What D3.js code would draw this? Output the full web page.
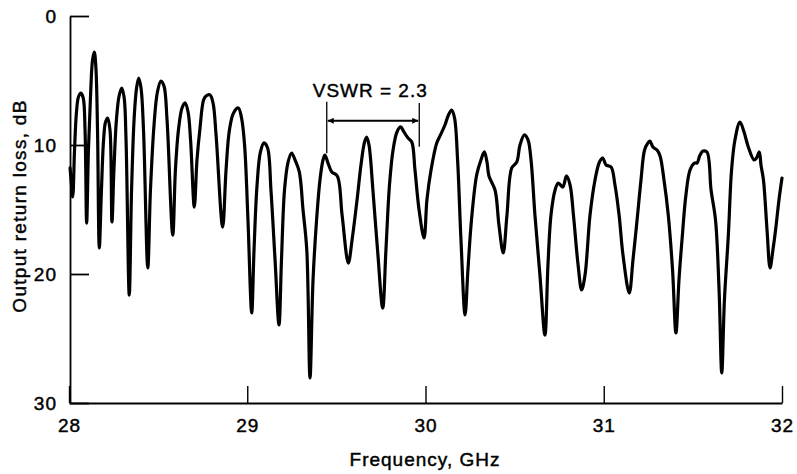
<!DOCTYPE html>
<html>
<head>
<meta charset="utf-8">
<script src="https://cdn.jsdelivr.net/npm/d3@7/dist/d3.min.js"></script>
<style>
  html, body { margin: 0; padding: 0; background: #fff; }
  svg { display: block; }
  text { font-family: "Liberation Sans", Arial, Helvetica, sans-serif; fill: #000; stroke: #000; stroke-width: 0.45px; }
</style>
</head>
<body>
<svg id="chart" width="797" height="474"></svg>
<script>
// Swept output return loss of the amplifier, 28–32 GHz
const freqGHz = [
  28.006, 28.014, 28.021, 28.031, 28.042, 28.053, 28.067, 28.080, 28.090, 28.099,
  28.109, 28.121, 28.132, 28.142, 28.151, 28.160, 28.170, 28.182, 28.194, 28.205,
  28.217, 28.230, 28.241, 28.252, 28.266, 28.281, 28.296, 28.309, 28.320, 28.338,
  28.351, 28.365, 28.379, 28.391, 28.404, 28.418, 28.442, 28.457, 28.477, 28.496,
  28.516, 28.533, 28.550, 28.582, 28.597, 28.614, 28.634, 28.651, 28.668, 28.682,
  28.703, 28.718, 28.735, 28.755, 28.769, 28.791, 28.808, 28.825, 28.862, 28.881,
  28.900, 28.923, 28.950, 28.968, 28.985, 29.004, 29.025, 29.038, 29.055, 29.074,
  29.094, 29.114, 29.133, 29.156, 29.178, 29.192, 29.209, 29.229, 29.249, 29.268,
  29.292, 29.313, 29.334, 29.352, 29.369, 29.389, 29.408, 29.425, 29.436, 29.453,
  29.474, 29.505, 29.532, 29.567, 29.588, 29.616, 29.638, 29.658, 29.670, 29.683,
  29.705, 29.731, 29.760, 29.778, 29.798, 29.818, 29.840, 29.861, 29.879, 29.902,
  29.923, 29.941, 29.964, 29.992, 30.008, 30.031, 30.063, 30.084, 30.109, 30.129,
  30.147, 30.163, 30.180, 30.199, 30.222, 30.238, 30.258, 30.287, 30.311, 30.330,
  30.345, 30.356, 30.390, 30.412, 30.436, 30.457, 30.484, 30.512, 30.530, 30.555,
  30.575, 30.592, 30.614, 30.642, 30.670, 30.687, 30.704, 30.727, 30.745, 30.770,
  30.791, 30.811, 30.830, 30.856, 30.876, 30.895, 30.923, 30.951, 30.976, 30.994,
  31.013, 31.041, 31.063, 31.086, 31.108, 31.143, 31.164, 31.187, 31.209, 31.229,
  31.248, 31.259, 31.276, 31.299, 31.316, 31.338, 31.362, 31.386, 31.405, 31.422,
  31.439, 31.461, 31.484, 31.509, 31.523, 31.540, 31.557, 31.579, 31.602, 31.627,
  31.647, 31.662, 31.677, 31.699, 31.717, 31.736, 31.764, 31.787, 31.811, 31.843,
  31.857, 31.873, 31.882, 31.896, 31.916, 31.933, 31.949, 31.964, 31.983, 32.000
];
const returnLossDb = [
  11.78, 13.10, 14.03, 10.39, 7.44, 6.28, 5.97, 6.36, 8.84, 16.05,
  10.39, 6.12, 3.41, 2.79, 4.03, 8.84, 17.98, 13.49, 9.61, 8.22,
  7.91, 8.84, 15.97, 11.94, 8.06, 6.20, 5.58, 6.28, 9.61, 21.63,
  13.49, 8.06, 5.58, 4.81, 5.58, 8.84, 19.53, 13.49, 8.45, 5.89,
  5.04, 5.43, 8.06, 16.98, 11.94, 8.84, 7.13, 6.74, 7.44, 9.61,
  14.81, 11.16, 8.68, 6.51, 6.20, 6.12, 6.74, 9.22, 16.36, 11.94,
  8.84, 7.52, 7.13, 7.91, 10.00, 15.81, 23.02, 18.14, 13.10, 10.54,
  9.84, 10.23, 13.49, 18.91, 23.95, 18.91, 13.49, 11.32, 10.62, 11.16,
  12.09, 15.04, 18.14, 28.06, 20.47, 15.81, 12.71, 11.16, 10.78, 11.40,
  12.09, 12.40, 15.43, 19.15, 17.36, 14.26, 11.55, 9.77, 9.38, 10.00,
  13.49, 18.14, 22.64, 18.14, 13.10, 10.39, 8.99, 8.60, 8.99, 9.46,
  9.77, 11.94, 15.04, 17.21, 14.26, 11.94, 9.84, 9.22, 8.45, 7.67,
  7.29, 7.91, 11.16, 17.36, 23.18, 19.69, 15.81, 12.33, 11.16, 10.54,
  11.32, 12.40, 13.49, 16.20, 18.37, 15.43, 11.78, 11.32, 10.00, 9.22,
  9.61, 11.16, 15.43, 20.08, 24.73, 19.30, 15.43, 13.49, 12.95, 13.26,
  12.40, 13.10, 15.43, 19.30, 21.24, 20.08, 15.43, 12.71, 11.32, 11.01,
  11.55, 11.71, 13.10, 15.43, 18.53, 21.47, 18.91, 15.81, 12.71, 10.39,
  9.84, 9.69, 10.16, 10.39, 10.85, 12.71, 15.43, 19.69, 24.57, 20.47,
  17.36, 13.88, 11.94, 11.40, 11.40, 10.78, 10.47, 10.54, 13.49, 15.81,
  21.24, 27.67, 22.02, 16.98, 11.94, 9.61, 8.22, 8.99, 10.16, 11.16,
  11.01, 10.54, 11.55, 12.71, 16.59, 19.53, 18.14, 16.59, 14.26, 12.56
];

// Axis ticks and labels
const freqTicks = [28, 29, 30, 31, 32];
const lossTicks = [0, 10, 20, 30];
const xTitle = "Frequency, GHz";
const yTitle = "Output return loss, dB";

// Bracket spanning one ripple period, with its label
const vswrSpanGHz = [29.446, 29.965];
const vswrLabel = "VSWR = 2.3";

const svg = d3.select("#chart");

const x = d3.scaleLinear().domain([28, 32]).range([69, 782]);
const y = d3.scaleLinear().domain([0, 30]).range([16, 403]);

const FONT = 19;

// Y axis with inward ticks
const yAxis = svg.append("g")
  .attr("transform", `translate(${x(28) + 1},0)`)
  .call(d3.axisLeft(y).tickValues(lossTicks).tickFormat(d3.format("d"))
    .tickSizeInner(-19).tickSizeOuter(0).tickPadding(13));
yAxis.select(".domain").attr("stroke", "#000").attr("stroke-width", 1.8);
yAxis.selectAll(".tick line").attr("stroke", "#000").attr("stroke-width", 1.8);
yAxis.selectAll(".tick text")
  .style("font-size", FONT + "px")
  .style("letter-spacing", "1px")
  .attr("fill", "#000");

// X axis with upward ticks
const xAxis = svg.append("g")
  .attr("transform", `translate(0,${y(30)})`)
  .call(d3.axisBottom(x).tickValues(freqTicks).tickFormat(d3.format("d"))
    .tickSizeInner(-17).tickSizeOuter(0).tickPadding(16));
xAxis.select(".domain").attr("stroke", "#000").attr("stroke-width", 1.8);
xAxis.selectAll(".tick line").attr("stroke", "#000").attr("stroke-width", 1.4);
xAxis.selectAll(".tick text")
  .style("font-size", FONT + "px")
  .style("letter-spacing", "1px")
  .attr("fill", "#000");

// Axis titles
svg.append("text")
  .attr("x", 425)
  .attr("y", 466)
  .attr("text-anchor", "middle")
  .style("font-size", FONT + "px")
  .style("letter-spacing", "1px")
  .text(xTitle);

svg.append("text")
  .attr("transform", "rotate(-90)")
  .attr("x", -206)
  .attr("y", 26)
  .attr("text-anchor", "middle")
  .style("font-size", FONT + "px")
  .style("letter-spacing", "1.3px")
  .text(yTitle);

// Measured trace
const line = d3.line()
  .x((d, i) => x(freqGHz[i]))
  .y(d => y(d))
  .curve(d3.curveCatmullRom.alpha(0.5));

svg.append("path")
  .datum(returnLossDb)
  .attr("fill", "none")
  .attr("stroke", "#000")
  .attr("stroke-width", 3.2)
  .attr("stroke-linejoin", "round")
  .attr("stroke-linecap", "round")
  .attr("d", line);

// VSWR bracket: two vertical markers joined by a double arrow
const defs = svg.append("defs");
defs.append("marker")
  .attr("id", "arrow")
  .attr("viewBox", "0 0 10 10")
  .attr("refX", 10).attr("refY", 5)
  .attr("markerWidth", 10).attr("markerHeight", 6)
  .attr("markerUnits", "userSpaceOnUse")
  .attr("orient", "auto-start-reverse")
  .append("path")
  .attr("d", "M0,0 L10,5 L0,10 Z")
  .attr("fill", "#000");

const bracket = svg.append("g");
bracket.append("line")
  .attr("x1", x(vswrSpanGHz[0])).attr("x2", x(vswrSpanGHz[0]))
  .attr("y1", y(6.64)).attr("y2", y(10.64))
  .attr("stroke", "#000").attr("stroke-width", 1.3);
bracket.append("line")
  .attr("x1", x(vswrSpanGHz[1])).attr("x2", x(vswrSpanGHz[1]))
  .attr("y1", y(6.74)).attr("y2", y(10.13))
  .attr("stroke", "#000").attr("stroke-width", 1.3);
bracket.append("line")
  .attr("x1", x(vswrSpanGHz[0]) + 1).attr("x2", x(vswrSpanGHz[1]) - 1)
  .attr("y1", y(8.12)).attr("y2", y(8.12))
  .attr("stroke", "#000").attr("stroke-width", 1.8)
  .attr("marker-start", "url(#arrow)")
  .attr("marker-end", "url(#arrow)");
bracket.append("text")
  .attr("x", x(29.69))
  .attr("y", y(6.3))
  .attr("text-anchor", "middle")
  .style("font-size", FONT + "px")
  .style("letter-spacing", "1px")
  .text(vswrLabel);
</script>
</body>
</html>
